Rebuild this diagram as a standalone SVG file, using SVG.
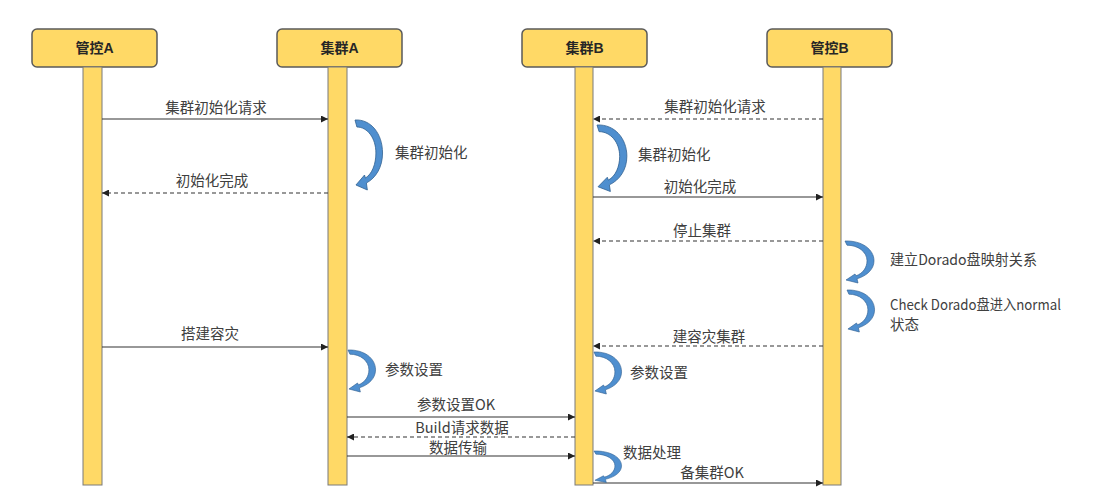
<svg xmlns="http://www.w3.org/2000/svg" width="1100" height="504" viewBox="0 0 1100 504">
<defs>
<style>
.hdr{fill:#FFD966;stroke:#5a5a5a;stroke-width:1.5}
.bar{fill:#FFD966;stroke:#7a7a7a;stroke-width:1}
.ht{font-family:"Liberation Sans","Noto Sans CJK SC",sans-serif;font-size:14px;font-weight:bold;fill:#262626;text-anchor:middle}
.t{font-family:"Noto Sans CJK SC","Liberation Sans",sans-serif;font-size:14.5px;fill:#404040}
.m{text-anchor:middle}
.ln{stroke:#333;stroke-width:1.1;fill:none;marker-end:url(#ah)}
.dl{stroke-dasharray:4 3}
.ca{fill:#4f8fcf;stroke:#2f5f8f;stroke-width:0.8}
</style>
<marker id="ah" viewBox="0 0 10 10" refX="10" refY="5" markerWidth="8" markerHeight="7" markerUnits="userSpaceOnUse" orient="auto">
<path d="M0,0 L10,5 L0,10 Z" fill="#222"/>
</marker>
<path id="curl" d="M0,0 C17,-1 29,14 29,33 C29,47 22,58 12,63 L13,70 L1,65 L10,55 L11,58 C18,54 22,44 22,33 C22,18 13,7 2,7 Z"/>
</defs>
<g id="node-ctrlA">
<rect class="hdr" x="32" y="29" width="125" height="38" rx="5"/>
<rect class="bar" x="83" y="67" width="19" height="418"/>
<text class="ht" x="94.5" y="53">管控A</text>
</g>
<g id="node-clusterA">
<rect class="hdr" x="277" y="29" width="125" height="38" rx="5"/>
<rect class="bar" x="328" y="67" width="19" height="418"/>
<text class="ht" x="339.5" y="53">集群A</text>
</g>
<g id="node-clusterB">
<rect class="hdr" x="522" y="29" width="125" height="38" rx="5"/>
<rect class="bar" x="575" y="67" width="18" height="418"/>
<text class="ht" x="584.5" y="53">集群B</text>
</g>
<g id="node-ctrlB">
<rect class="hdr" x="767" y="29" width="125" height="38" rx="5"/>
<rect class="bar" x="823" y="67" width="18" height="418"/>
<text class="ht" x="829.5" y="53">管控B</text>
</g>
<g id="connectors">
<line class="ln" x1="102" y1="119" x2="328" y2="119"/>
<line class="ln dl" x1="328" y1="193" x2="102" y2="193"/>
<line class="ln dl" x1="823" y1="119" x2="593" y2="119"/>
<line class="ln" x1="593" y1="197" x2="823" y2="197"/>
<line class="ln dl" x1="823" y1="241" x2="593" y2="241"/>
<line class="ln dl" x1="823" y1="346" x2="593" y2="346"/>
<line class="ln" x1="102" y1="347" x2="328" y2="347"/>
<line class="ln" x1="347" y1="417" x2="575" y2="417"/>
<line class="ln dl" x1="575" y1="437" x2="347" y2="437"/>
<line class="ln" x1="347" y1="456" x2="575" y2="456"/>
<line class="ln" x1="593" y1="483" x2="823" y2="483"/>
<use href="#curl" class="ca" transform="translate(355,120) scale(0.95,1.0)"/>
<use href="#curl" class="ca" transform="translate(597,125) scale(1.03,0.95)"/>
<use href="#curl" class="ca" transform="translate(845,241) scale(1.0,0.6)"/>
<use href="#curl" class="ca" transform="translate(847,290) scale(0.95,0.6)"/>
<use href="#curl" class="ca" transform="translate(348,350) scale(0.95,0.6)"/>
<use href="#curl" class="ca" transform="translate(594,352) scale(0.95,0.6)"/>
<use href="#curl" class="ca" transform="translate(594,451) scale(0.95,0.45)"/>
</g>
<g id="labels">
<text class="t m" x="216" y="113">集群初始化请求</text>
<text class="t m" x="212" y="186">初始化完成</text>
<text class="t m" x="715" y="112">集群初始化请求</text>
<text class="t m" x="700" y="192">初始化完成</text>
<text class="t m" x="702" y="236">停止集群</text>
<text class="t m" x="709" y="342">建容灾集群</text>
<text class="t m" x="210" y="339">搭建容灾</text>
<text class="t m" x="456" y="410">参数设置OK</text>
<text class="t m" x="462" y="433">Build请求数据</text>
<text class="t m" x="458" y="453">数据传输</text>
<text class="t m" x="712" y="478">备集群OK</text>
<text class="t" x="395" y="158">集群初始化</text>
<text class="t" x="638" y="160">集群初始化</text>
<text class="t" x="890" y="265" textLength="147" lengthAdjust="spacingAndGlyphs">建立Dorado盘映射关系</text>
<text class="t" x="890" y="310" textLength="171" lengthAdjust="spacingAndGlyphs">Check Dorado盘进入normal</text>
<text class="t" x="890" y="330">状态</text>
<text class="t" x="385" y="375">参数设置</text>
<text class="t" x="630" y="378">参数设置</text>
<text class="t" x="623" y="458">数据处理</text>
</g>
</svg>
